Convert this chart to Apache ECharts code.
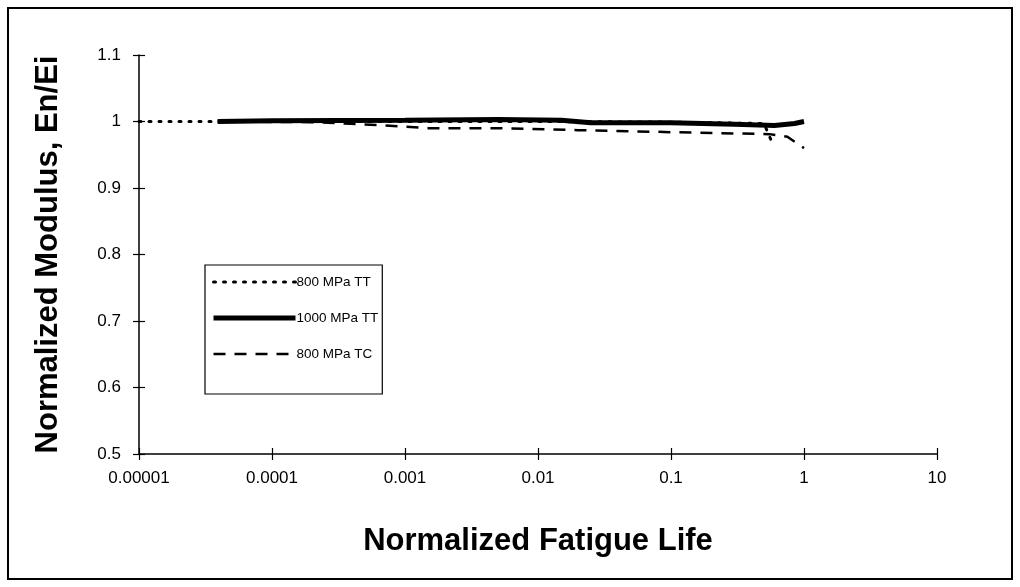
<!DOCTYPE html>
<html><head><meta charset="utf-8">
<script src="https://cdn.jsdelivr.net/npm/echarts@6/dist/echarts.min.js"></script>
<style>html,body{margin:0;padding:0;background:#fff}#c{width:1020px;height:587px}</style>
</head><body><div id="c"></div>
<script>
const xTickLabels = ['0.00001','0.0001','0.001','0.01','0.1','1','10'];
const seriesNames = ['800 MPa TT','1000 MPa TT','800 MPa TC'];
// [normalized fatigue life, normalized modulus]
const tt800 = [[1e-5,1.0],[4e-5,1.0],[1e-3,1.0],[0.01,1.0],[0.1,0.999],[0.5,0.997],[0.58,0.967]];
const tt1000 = [[3.9e-5,1.0],[1e-4,1.001],[1e-3,1.002],[5e-3,1.003],[0.015,1.002],[0.025,0.998],[0.1,0.998],[0.3,0.996],[0.6,0.994],[0.85,0.997],[1,1.0]];
const tc800 = [[3.9e-5,1.0],[2e-4,0.999],[3.5e-4,0.997],[7e-4,0.994],[1.5e-3,0.99],[0.005,0.99],[0.02,0.987],[0.1,0.984],[0.3,0.982],[0.55,0.981],[0.75,0.977],[1,0.96]];

const font = '"Liberation Sans", Arial, sans-serif';
const chart = echarts.init(document.getElementById('c'), null, {renderer:'canvas'});
const axisLine = {show:true, lineStyle:{color:'#000', width:1.5}};
const styles = [
  {color:'#000', width:3, type:[2,8], cap:'round'},
  {color:'#000', width:5},
  {color:'#000', width:2.5, type:[12,9]}
];
chart.setOption({
  backgroundColor:'#fff',
  animation:false,
  grid:{left:139, right:83, top:55, bottom:133, containLabel:false},
  legend:{
    orient:'vertical', left:205, top:265,
    data:seriesNames.map((n,i)=>({name:n, lineStyle:styles[i], itemStyle:{opacity:0}})),
    itemWidth:82, itemHeight:14, itemGap:22,
    padding:[10,4,33,6],
    itemStyle:{opacity:0},
    borderColor:'#000', borderWidth:1.2,
    textStyle:{fontFamily:font, fontSize:13.5, color:'#000', padding:[0,0,0,-4]}
  },
  xAxis:[{
    type:'log', logBase:10, min:1e-5, max:10,
    name:'Normalized Fatigue Life', nameLocation:'middle', nameGap:72,
    nameTextStyle:{fontFamily:font, fontSize:31, fontWeight:'bold', color:'#000'},
    axisLine:axisLine,
    axisTick:{show:true, length:6, lineStyle:{color:'#000', width:1.2}},
    axisLabel:{fontFamily:font, fontSize:17, color:'#000', margin:16,
      formatter:(v,i)=>xTickLabels[i]},
    splitLine:{show:false}, minorTick:{show:false}
  },{
    type:'log', logBase:10, min:1e-5, max:10, position:'bottom',
    axisLine:{show:false},
    axisTick:{show:true, inside:true, length:6, lineStyle:{color:'#000', width:1.2}},
    axisLabel:{show:false}, splitLine:{show:false}
  }],
  yAxis:[{
    type:'value', min:0.5, max:1.1, interval:0.1,
    name:'Normalized Modulus, En/Ei', nameLocation:'middle', nameGap:75, nameRotate:90,
    nameTextStyle:{fontFamily:font, fontSize:31, fontWeight:'bold', color:'#000'},
    axisLine:axisLine,
    axisTick:{show:true, length:6, lineStyle:{color:'#000', width:1.2}},
    axisLabel:{fontFamily:font, fontSize:17, color:'#000', margin:18},
    splitLine:{show:false}
  },{
    type:'value', min:0.5, max:1.1, interval:0.1, position:'left',
    axisLine:{show:false},
    axisTick:{show:true, inside:true, length:6, lineStyle:{color:'#000', width:1.2}},
    axisLabel:{show:false}, splitLine:{show:false}
  }],
  series:[
    {name:seriesNames[0], type:'line', data:tt800, showSymbol:false, symbol:'none',
     itemStyle:{color:'#000'}, lineStyle:styles[0], z:2},
    {name:seriesNames[1], type:'line', data:tt1000, showSymbol:false, symbol:'none',
     itemStyle:{color:'#000'}, lineStyle:styles[1], z:3},
    {name:seriesNames[2], type:'line', data:tc800, showSymbol:false, symbol:'none',
     itemStyle:{color:'#000'}, lineStyle:styles[2], z:4}
  ],
  graphic:[{type:'rect', shape:{x:8, y:8, width:1004, height:571},
    style:{fill:null, stroke:'#000', lineWidth:2}, silent:true, z:-1}]
});
</script></body></html>
